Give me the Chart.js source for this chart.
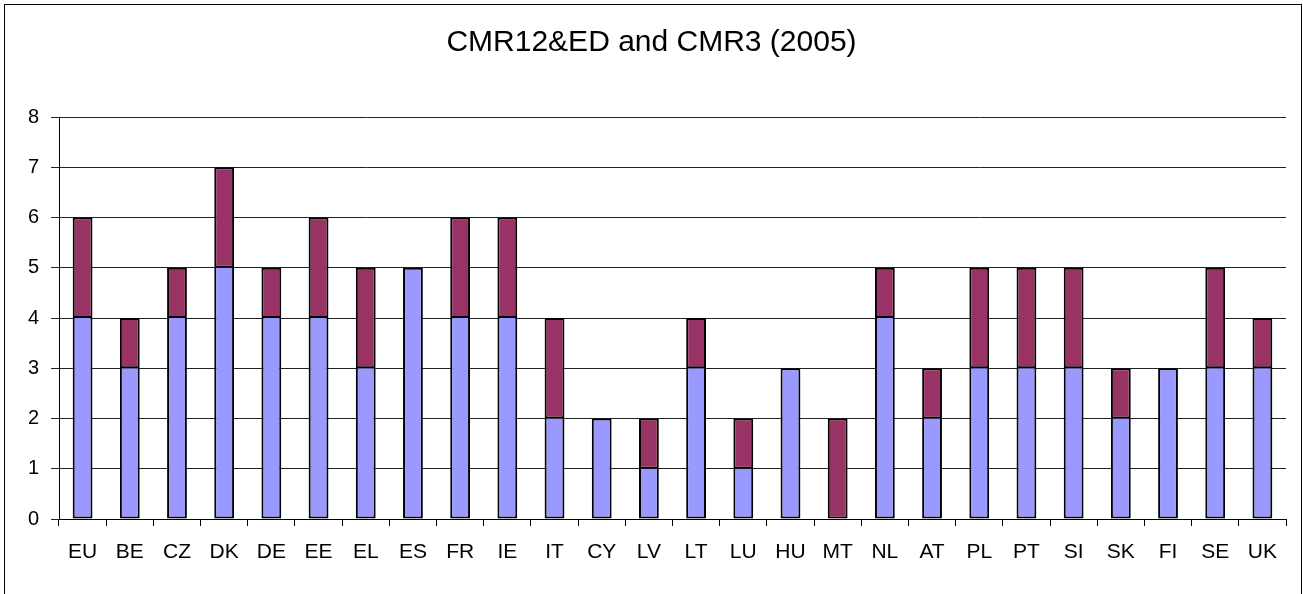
<!DOCTYPE html>
<html>
<head>
<meta charset="utf-8">
<script src="https://cdn.jsdelivr.net/npm/chart.js@4/dist/chart.umd.min.js"></script>
<style>
  html, body { margin: 0; padding: 0; background: #fff; }
  #wrap { width: 1303px; height: 594px; }
</style>
</head>
<body>
<div id="wrap"><canvas id="chart" width="1303" height="594"></canvas></div>
<script>
// countries, 2005
var countries = ["EU", "BE", "CZ", "DK", "DE", "EE", "EL", "ES", "FR", "IE", "IT", "CY", "LV",
                 "LT", "LU", "HU", "MT", "NL", "AT", "PL", "PT", "SI", "SK", "FI", "SE", "UK"];
var cmr12ed = [4, 3, 4, 5, 4, 4, 3, 5, 4, 4, 2, 2, 1, 3, 1, 3, 0, 4, 2, 3, 3, 3, 2, 3, 3, 3];
var cmr3    = [2, 1, 1, 2, 1, 2, 2, 0, 2, 2, 2, 0, 1, 1, 1, 0, 2, 1, 1, 2, 2, 2, 1, 0, 2, 1];
var yTicks = [0, 1, 2, 3, 4, 5, 6, 7, 8];
var title = 'CMR12&ED and CMR3 (2005)';

var font = "'Liberation Sans', Arial, sans-serif";

// frame round the whole picture, title centred on the full width
var framePlugin = {
    id: 'frame',
    afterDraw: function(chart) {
        var ctx = chart.ctx;
        ctx.save();
        ctx.strokeStyle = '#000';
        ctx.lineWidth = 1;
        ctx.strokeRect(4.5, 4.5, 1297, 600);
        ctx.fillStyle = '#000';
        ctx.font = "30px " + font;
        ctx.textAlign = 'center';
        ctx.textBaseline = 'alphabetic';
        ctx.fillText(title, chart.width / 2, 51);
        ctx.restore();
    }
};

new Chart(document.getElementById("chart"), {
    type: 'bar',
    data: {
        labels: countries,
        datasets: [{
            label: 'CMR12&ED',
            data: cmr12ed,
            backgroundColor: '#9999FF',
            borderColor: '#000',
            borderWidth: 2,
            // the maroon part on top draws the shared edge
            borderSkipped: function(c) { return cmr3[c.dataIndex] > 0 ? 'top' : false; }
        }, {
            label: 'CMR3',
            data: cmr3,
            backgroundColor: '#993366',
            borderColor: '#000',
            borderWidth: 2,
            borderSkipped: false
        }]
    },
    options: {
        responsive: false,
        animation: false,
        layout: { padding: { left: 0, right: 17, top: 117, bottom: 0 } },
        datasets: { bar: { barPercentage: 0.42, categoryPercentage: 1 } },
        plugins: {
            legend: { display: false },
            tooltip: { enabled: false },
            title: { display: false }
        },
        scales: {
            x: {
                stacked: true,
                grid: { offset: true, drawOnChartArea: false, color: '#000', tickLength: 7 },
                border: { color: '#000', width: 1 },
                ticks: { color: '#000', font: { family: font, size: 21 }, padding: 14, maxRotation: 0, autoSkip: false },
                afterFit: function(s) { s.height = 75; }
            },
            y: {
                stacked: true,
                min: 0,
                max: 8,
                afterBuildTicks: function(s) { s.ticks = yTicks.map(function(v) { return { value: v }; }); },
                grid: { color: '#222', tickLength: 8 },
                border: { color: '#000', width: 1 },
                ticks: { color: '#000', font: { family: font, size: 20 }, padding: 12 },
                afterFit: function(s) { s.width = 59; }
            }
        }
    },
    plugins: [framePlugin]
});
</script>
</body>
</html>
